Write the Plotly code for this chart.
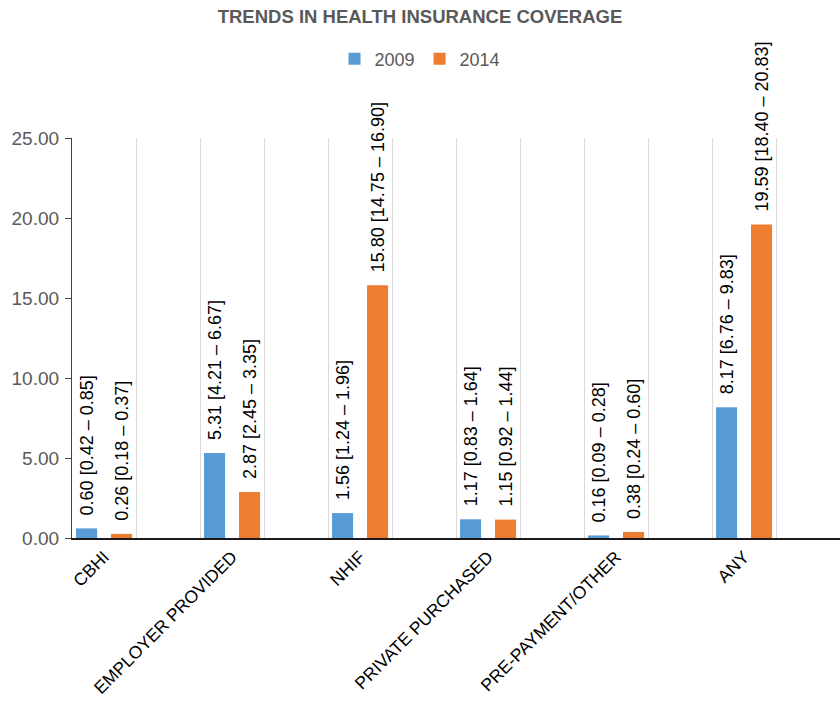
import plotly.graph_objects as go

categories = ["CBHI", "EMPLOYER PROVIDED", "NHIF", "PRIVATE PURCHASED", "PRE-PAYMENT/OTHER", "ANY"]
v2009 = [0.60, 5.31, 1.56, 1.17, 0.16, 8.17]
lo2009 = [0.42, 4.21, 1.24, 0.83, 0.09, 6.76]
hi2009 = [0.85, 6.67, 1.96, 1.64, 0.28, 9.83]
v2014 = [0.26, 2.87, 15.80, 1.15, 0.38, 19.59]
lo2014 = [0.18, 2.45, 14.75, 0.92, 0.24, 18.40]
hi2014 = [0.37, 3.35, 16.90, 1.44, 0.60, 20.83]
y_ticks = [0, 5, 10, 15, 20, 25]

FONT = "Liberation Sans, Arial, Helvetica, sans-serif"
NB = "\u00a0\u00a0"

# each category is followed by an empty slot in the original chart
pos = [2 * i for i in range(len(categories))]
slots = 2 * len(categories)
bounds = [i + 0.5 for i in range(slots)]


def labels(v, lo, hi):
    return [f"{NB}{a:.2f} [{b:.2f} \u2013 {c:.2f}]" for a, b, c in zip(v, lo, hi)]


fig = go.Figure()
for name, vals, lo, hi, color, off in [
    ("2009", v2009, lo2009, hi2009, "#5B9BD5", -0.4375),
    ("2014", v2014, lo2014, hi2014, "#ED7D31", 0.1094),
]:
    fig.add_trace(go.Bar(
        name=name, x=pos, y=vals,
        width=0.33, offset=off,
        marker=dict(color=color, line=dict(width=0)),
        text=labels(vals, lo, hi), textposition="outside", textangle=-90,
        constraintext="none", cliponaxis=False,
        textfont=dict(family=FONT, size=18, color="#000000"),
        hoverinfo="skip",
    ))

fig.update_layout(
    width=840, height=704,
    margin=dict(l=72, r=0, t=138, b=166, autoexpand=False),
    paper_bgcolor="white", plot_bgcolor="white",
    barmode="group",
    title=dict(text="<b>TRENDS IN HEALTH INSURANCE COVERAGE</b>",
               x=0.5, xref="container", xanchor="center",
               y=1 - 17 / 704, yref="container", yanchor="middle",
               font=dict(family=FONT, size=18.5, color="#595959")),
    legend=dict(orientation="h", x=0.5, xref="container", xanchor="center",
                y=1 - 59 / 704, yref="container", yanchor="middle",
                font=dict(family=FONT, size=18, color="#595959"),
                itemwidth=30, tracegroupgap=0, itemclick=False),
    showlegend=True,
)

fig.update_xaxes(
    range=[-0.5, slots - 0.5], tickmode="array", tickvals=pos, ticktext=categories,
    tickangle=-45, showgrid=False, zeroline=False,
    showline=True, linecolor="#1a1a1a", linewidth=1.5,
    ticks="", ticklabelstandoff=0,
    tickfont=dict(family=FONT, size=17.5, color="#000000"),
    minor=dict(tickmode="array", tickvals=bounds, showgrid=True,
               gridcolor="#d9d9d9", gridwidth=1, ticks=""),
    automargin=False, fixedrange=True,
)
fig.update_yaxes(
    range=[0, 25], tickmode="array", tickvals=y_ticks, tickformat=".2f",
    showgrid=False, zeroline=False,
    showline=True, linecolor="#404040", linewidth=1.2,
    ticks="outside", ticklen=6, tickcolor="#404040", tickwidth=1.2,
    ticklabelstandoff=2,
    tickfont=dict(family=FONT, size=19, color="#595959"),
    automargin=False, fixedrange=True,
)

fig.write_html("out.html")
